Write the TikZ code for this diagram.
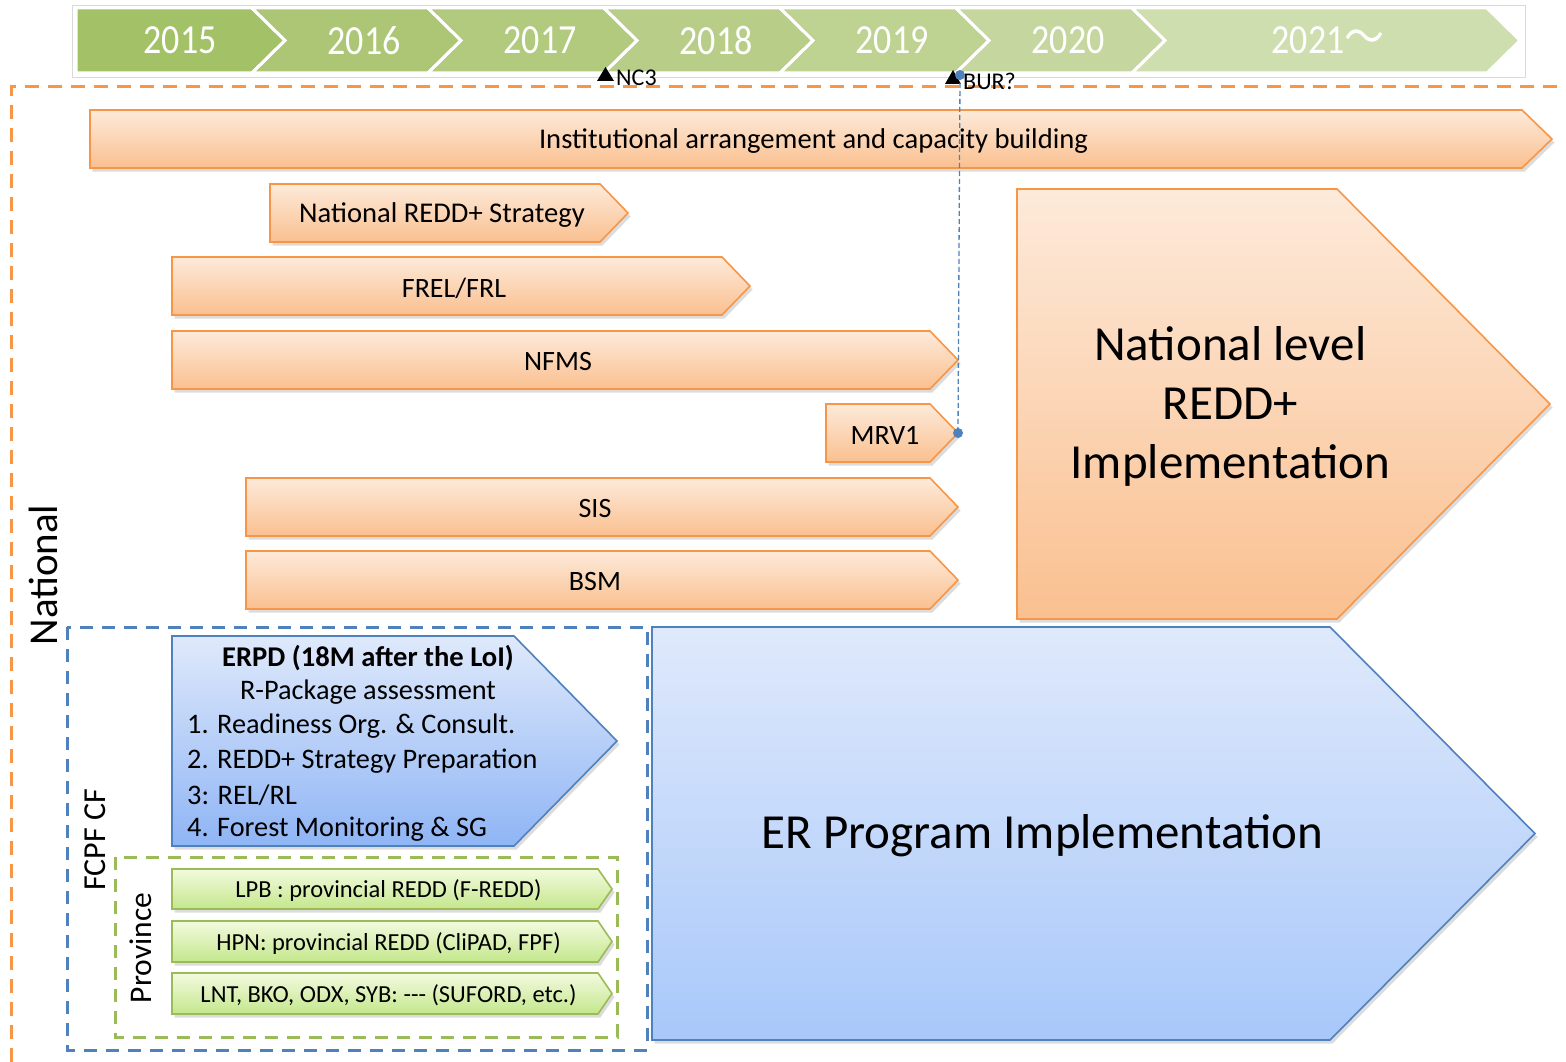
\documentclass[tikz,border=0pt]{standalone}
\usepackage{fontspec}
\setmainfont{Carlito}
\newfontfamily\cjkf{Noto Sans CJK JP}
\newcommand{\setfs}[2]{\fontsize{#1}{#2}\selectfont}
\definecolor{oborder}{HTML}{F79646}
\definecolor{otop}{HTML}{FDEADA}
\definecolor{obot}{HTML}{FAC090}
\definecolor{bborder}{HTML}{4F81BD}
\definecolor{btop}{HTML}{DFE9FB}
\definecolor{bbot}{HTML}{8FB5F5}
\definecolor{bbotb}{HTML}{A8C8FA}
\definecolor{gborder}{HTML}{9BBB59}
\definecolor{gtop}{HTML}{F3FADF}
\definecolor{gbot}{HTML}{C4E78C}
\definecolor{c15}{HTML}{A3C267}
\definecolor{c16}{HTML}{ACC675}
\definecolor{c17}{HTML}{B1CA7D}
\definecolor{c18}{HTML}{B8CE88}
\definecolor{c19}{HTML}{BED291}
\definecolor{c20}{HTML}{C5D79E}
\definecolor{c21}{HTML}{CEDEAE}
\tikzset{
  orangebox/.style={top color=otop, bottom color=obot, draw=oborder, line width=1.6pt},
  bluebox/.style={top color=btop, bottom color=bbot, draw=bborder, line width=1.6pt},
  bigbluebox/.style={top color=btop, bottom color=bbotb, draw=bborder, line width=1.6pt},
  greenbox/.style={top color=gtop, bottom color=gbot, draw=gborder, line width=1.6pt},
  shadowfill/.style={fill=black!45, opacity=0.3},
  lbl/.style={inner sep=0pt, align=center, text=black, yshift=-2pt},
  yeartxt/.style={inner sep=0pt, text=white, font=\setfs{36}{40}},
  chev/.style={draw=white, line width=3pt, line join=miter},
  odash/.style={draw=oborder, line width=3pt, dash pattern=on 14pt off 9pt},
  bdash/.style={draw=bborder, line width=3pt, dash pattern=on 13pt off 9pt},
  gdash/.style={draw=gborder, line width=3pt, dash pattern=on 13pt off 9pt},
  linkline/.style={draw=bborder, line width=1.3pt, dash pattern=on 5pt off 3pt},
  dotmark/.style={fill=bborder},
}
% #1 name, #2 x1, #3 y1, #4 xbody, #5 xtip, #6 y2, #7 style, #8 font, #9 text
\newcommand{\pent}[9]{%
  \begin{scope}[shift={(2.5,3.5)}]
    \fill[shadowfill] (#2,#3) -- (#4,#3) -- (#5,{(#3+#6)/2}) -- (#4,#6) -- (#2,#6) -- cycle;
  \end{scope}
  \shade[#7] (#2,#3) -- (#4,#3) -- (#5,{(#3+#6)/2}) -- (#4,#6) -- (#2,#6) -- cycle;
  \node[lbl, font=#8] (#1) at ({(#2+(#4+#5)/2)/2},{(#3+#6)/2}) {#9};
}
\begin{document}
\begin{tikzpicture}[x=1pt,y=-1pt]
\useasboundingbox (0,0) rectangle (1566,1062);
\fill[white] (0,0) rectangle (1566,1062);

% ---- timeline ----
\draw[black!15, line width=0.8pt] (72,5) rectangle (1525,77);
\path[chev, fill=c15] (76,8) -- (252,8) -- (285,40.5) -- (252,73) -- (76,73) -- cycle;
\foreach \i/\col in {1/c16,2/c17,3/c18,4/c19,5/c20}{
  \pgfmathsetmacro{\L}{76+176*\i}
  \pgfmathsetmacro{\R}{\L+176}
  \pgfmathsetmacro{\T}{\R+33}
  \path[chev, fill=\col] (\L,8) -- (\R,8) -- (\T,40.5) -- (\R,73) -- (\L,73) -- ({\L+33},40.5) -- cycle;
}
\path[chev, fill=c21] (1132,8) -- (1487,8) -- (1520,40.5) -- (1487,73) -- (1132,73) -- (1165,40.5) -- cycle;
\node[yeartxt] (y15) at (180,40.5) {\scalebox{1}[1.15]{2015}};
\node[yeartxt] (y16) at (364,40.5) {\scalebox{1}[1.15]{2016}};
\node[yeartxt] (y17) at (540,40.5) {\scalebox{1}[1.15]{2017}};
\node[yeartxt] (y18) at (716,40.5) {\scalebox{1}[1.15]{2018}};
\node[yeartxt] (y19) at (892,40.5) {\scalebox{1}[1.15]{2019}};
\node[yeartxt] (y20) at (1068,40.5) {\scalebox{1}[1.15]{2020}};
\node[yeartxt] (y21) at (1328,40.5) {\scalebox{1}[1.15]{2021{\cjkf\setfs{40}{40}～}}};

% ---- national dashed frame ----
\draw[odash] (11,1062) -- (11,87) -- (1566,87);
\node[inner sep=0pt, rotate=90, font=\setfs{41}{44}] (national) at (43,575) {National};

% ---- orange bars ----
\pent{inst}{90}{110}{1522}{1552}{168}{orangebox}{\setfs{28.6}{32}}{Institutional arrangement and capacity building}
\pent{strat}{270}{184}{600}{628}{242}{orangebox}{\setfs{28.6}{32}}{National REDD+ Strategy}
\pent{frel}{172}{257}{722}{750}{315}{orangebox}{\setfs{28}{32}}{FREL/FRL}
\pent{nfms}{172}{331}{930}{958}{389}{orangebox}{\setfs{28}{32}}{NFMS}
\pent{mrv}{826}{404}{930}{958}{462}{orangebox}{\setfs{28}{32}}{MRV1}
\pent{sis}{246}{478}{930}{958}{536}{orangebox}{\setfs{28}{32}}{SIS}
\pent{bsm}{246}{551}{930}{958}{609}{orangebox}{\setfs{28}{32}}{BSM}
\pent{natimp}{1017}{189}{1337}{1550}{619}{orangebox}{\setfs{49}{59}}{\raisebox{-3pt}{National level}\\\raisebox{-3pt}{REDD+}\\\raisebox{-3pt}{Implementation}}

% ---- FCPF CF ----
\draw[bdash] (67,627) rectangle (647,1050);
\node[inner sep=0pt, rotate=90, font=\setfs{32}{34}] (fcpf) at (95,840) {FCPF CF};
\pent{erpd}{172}{636}{514}{617}{846}{bluebox}{\setfs{28}{34}}{}
\node[lbl, font=\setfs{28.6}{34}\bfseries] (erpdT) at (368,656) {ERPD (18M after the LoI)};
\node[lbl, font=\setfs{28.3}{34}] (erpdS) at (368,690) {R-Package assessment};
\node[lbl, anchor=west, font=\setfs{28.3}{34}] (erpd1) at (187,724) {1. Readiness Org. \& Consult.};
\node[lbl, anchor=west, font=\setfs{28.3}{34}] (erpd2) at (187,759) {2. REDD+ Strategy Preparation};
\node[lbl, anchor=west, font=\setfs{28.3}{34}] (erpd3) at (187,793) {3: REL/RL};
\node[lbl, anchor=west, font=\setfs{28.3}{34}] (erpd4) at (187,827) {4. Forest Monitoring \& SG};

% ---- Province ----
\draw[gdash] (115,857) rectangle (617,1037);
\node[inner sep=0pt, rotate=90, font=\setfs{31.5}{34}] (prov) at (141,948) {Province};
\pent{lpb}{172}{869}{598}{612}{909}{greenbox}{\setfs{24.5}{26}}{LPB : provincial REDD (F-REDD)}
\pent{hpn}{172}{921}{598}{612}{962}{greenbox}{\setfs{24.5}{26}}{HPN: provincial REDD (CliPAD, FPF)}
\pent{lnt}{172}{973}{598}{612}{1014}{greenbox}{\setfs{24.5}{26}}{LNT, BKO, ODX, SYB: -{}-{}- (SUFORD, etc.)}

% ---- ER Program ----
\pent{erprog}{652}{627}{1330}{1535}{1040}{bigbluebox}{\setfs{49}{56}}{\raisebox{-4pt}{ER Program Implementation}}

% ---- markers ----
\fill[black] (597,81) -- (614,81) -- (605.5,67) -- cycle;
\node[lbl, anchor=west, font=\setfs{24}{26}] (nc3) at (616,76) {NC3};
\fill[black] (945,84) -- (961,84) -- (953,70) -- cycle;
\node[lbl, anchor=west, font=\setfs{24}{26}] (bur) at (963,79) {BUR?};
\coordinate (burdot) at (960,75);
\coordinate (mrvdot) at (958,433);
\draw[linkline] (burdot) -- (mrvdot);
\fill[dotmark] (burdot) circle (5);
\fill[dotmark] (mrvdot) circle (5);
\end{tikzpicture}
\end{document}
